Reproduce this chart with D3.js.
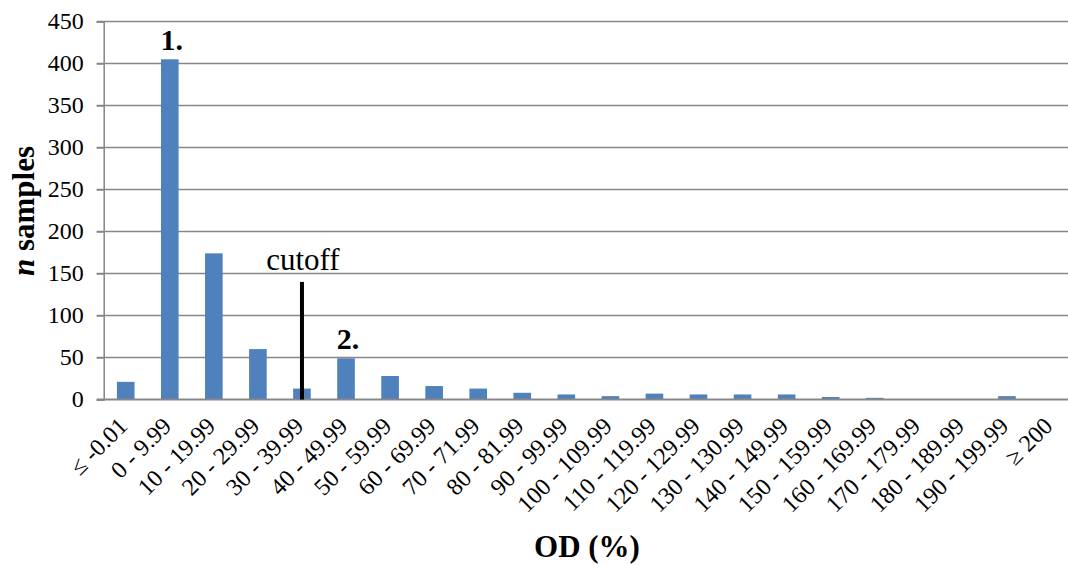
<!DOCTYPE html>
<html>
<head>
<meta charset="utf-8">
<script src="https://cdn.jsdelivr.net/npm/d3@7"></script>
<style>
  html, body { margin: 0; padding: 0; background: #fff; }
  svg { display: block; }
  svg text { font-family: "Liberation Serif", "Times New Roman", serif; fill: #000; }
</style>
</head>
<body>
<script>
const categories = ["≤ -0.01", "0 - 9.99", "10 - 19.99", "20 - 29.99", "30 - 39.99", "40 - 49.99",
  "50 - 59.99", "60 - 69.99", "70 - 71.99", "80 - 81.99", "90 - 99.99", "100 - 109.99",
  "110 - 119.99", "120 - 129.99", "130 - 130.99", "140 - 149.99", "150 - 159.99",
  "160 - 169.99", "170 - 179.99", "180 - 189.99", "190 - 199.99", "≥ 200"];
const samples = [21, 405, 174, 60, 13, 49, 28, 16, 13, 8, 6, 4, 7, 6, 6, 6, 3, 2, 0, 0, 4, 0];
const yTicks = [0, 50, 100, 150, 200, 250, 300, 350, 400, 450];
const cutoffCategory = "30 - 39.99";
const cutoffValue = 140;
const peakLabels = [{ category: "0 - 9.99", text: "1." }, { category: "40 - 49.99", text: "2." }];

const W = 1068, H = 565;
const mLeft = 103.7, mRight = 1073, mTop = 21.5, mBottom = 399.5;

const svg = d3.select("body").append("svg").attr("width", W).attr("height", H);

const x = d3.scaleBand().domain(categories).range([mLeft, mRight]).paddingInner(0.6).paddingOuter(0.3);
const y = d3.scaleLinear().domain([0, 450]).range([mBottom, mTop]);

// gridlines
svg.append("g").selectAll("line").data(yTicks.filter(d => d > 0)).join("line")
  .attr("x1", mLeft - 7).attr("x2", W)
  .attr("y1", d => y(d)).attr("y2", d => y(d))
  .attr("stroke", "#878787").attr("stroke-width", 1.5);

// y axis (ticks + domain), labels drawn separately
const yAxis = svg.append("g").attr("transform", `translate(${mLeft},0)`)
  .call(d3.axisLeft(y).tickValues(yTicks).tickSize(7).tickFormat(""));
yAxis.select(".domain").attr("stroke", "#878787").attr("stroke-width", 1.5);
yAxis.selectAll(".tick line").attr("stroke", "#878787").attr("stroke-width", 1.5);
yAxis.selectAll(".tick text").remove();

svg.append("g").selectAll("text").data(yTicks).join("text")
  .attr("x", mLeft - 20)
  .attr("y", d => y(d))
  .attr("dy", "0.33em")
  .attr("text-anchor", "end")
  .attr("font-family", "Liberation Serif")
  .attr("font-size", 24)
  .style("font-size", "24px")
  .text(d => d);

// bars
svg.append("g").selectAll("rect").data(categories).join("rect")
  .attr("x", d => x(d))
  .attr("width", x.bandwidth())
  .attr("y", (d, i) => y(samples[i]))
  .attr("height", (d, i) => mBottom - y(samples[i]))
  .attr("fill", "#4F81BD");

// x axis line
svg.append("line").attr("x1", mLeft - 7).attr("x2", W).attr("y1", mBottom).attr("y2", mBottom)
  .attr("stroke", "#878787").attr("stroke-width", 2);

// x labels
svg.append("g").selectAll("text").data(categories).join("text")
  .attr("transform", d => `translate(${x(d) + x.bandwidth() / 2 + 3},${mBottom + 28}) rotate(-45)`)
  .attr("text-anchor", "end")
  .style("font-size", "24px")
  .text(d => d);

// cutoff line
const cx = x(cutoffCategory) + x.bandwidth() / 2;
svg.append("line").attr("x1", cx).attr("x2", cx).attr("y1", y(0)).attr("y2", y(cutoffValue))
  .attr("stroke", "#000").attr("stroke-width", 4);
svg.append("text").attr("x", cx + 1).attr("y", y(cutoffValue) - 12)
  .attr("text-anchor", "middle").style("font-size", "31px").text("cutoff");

// peak labels
svg.append("g").selectAll("text").data(peakLabels).join("text")
  .attr("x", d => x(d.category) + x.bandwidth() / 2 + 2)
  .attr("y", d => y(samples[categories.indexOf(d.category)]) - 9)
  .attr("text-anchor", "middle").style("font-weight", "bold").style("font-size", "30px")
  .text(d => d.text);

// axis titles
svg.append("text").attr("x", 587).attr("y", 557).attr("text-anchor", "middle")
  .style("font-weight", "bold").style("font-size", "31px").text("OD (%)");

const yt = svg.append("text").attr("transform", `translate(34,211) rotate(-90)`)
  .attr("text-anchor", "middle").style("font-weight", "bold").style("font-size", "31px");
yt.append("tspan").style("font-style", "italic").text("n");
yt.append("tspan").text(" samples");
</script>
</body>
</html>
